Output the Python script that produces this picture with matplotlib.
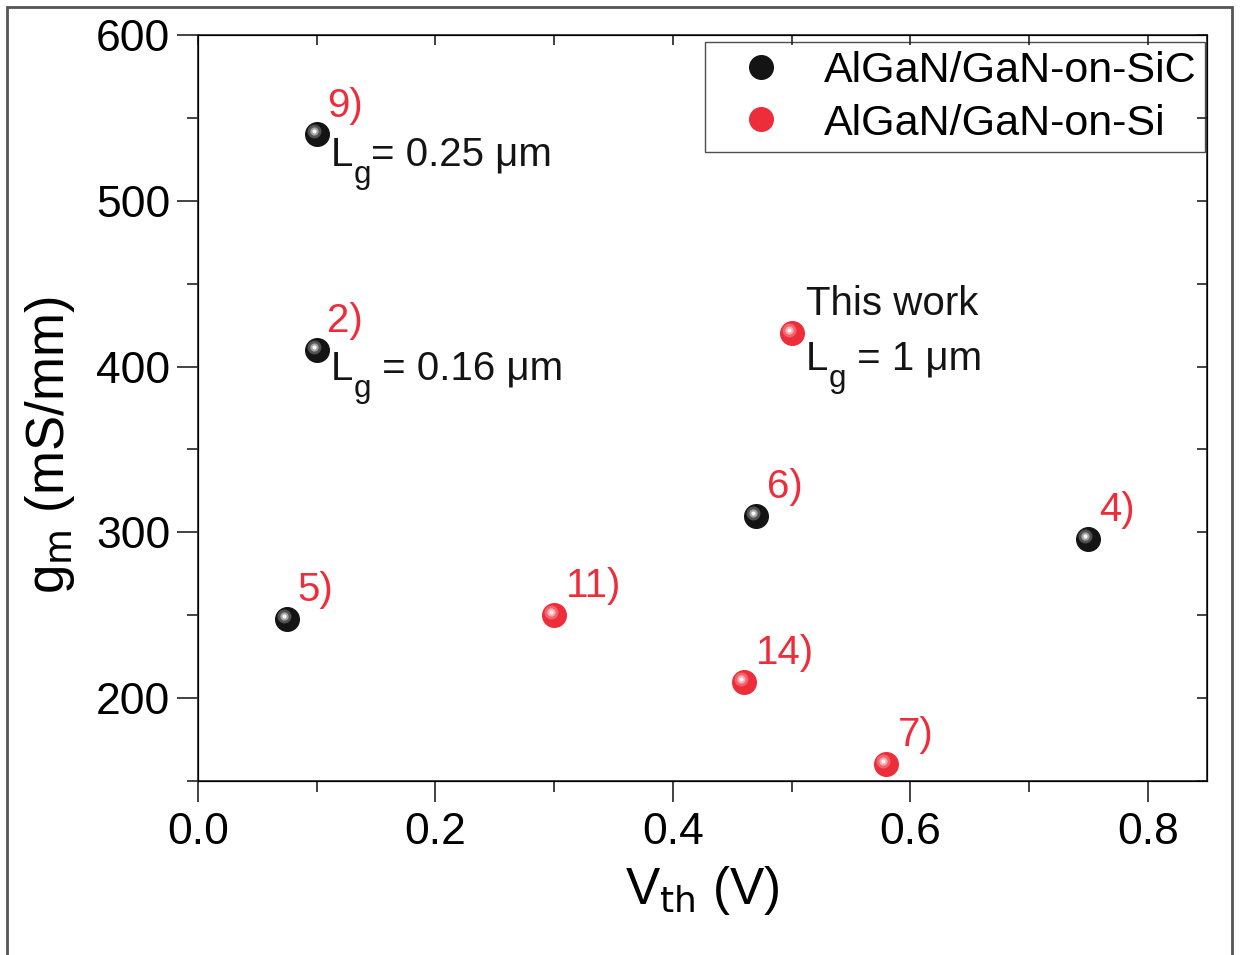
import matplotlib
matplotlib.use("Agg")
import matplotlib.pyplot as plt
import matplotlib.transforms as mtransforms
from matplotlib.patches import Rectangle
from matplotlib.ticker import MultipleLocator, FormatStrFormatter

plt.rcParams["font.family"] = ["Liberation Sans", "DejaVu Sans"]

# data
sic_vth = [0.10, 0.10, 0.075, 0.47, 0.75]
sic_gm = [540, 410, 248, 310, 296]
sic_refs = ["9)", "2)", "5)", "6)", "4)"]

si_vth = [0.50, 0.30, 0.46, 0.58]
si_gm = [420, 250, 210, 160]
si_refs = [None, "11)", "14)", "7)"]

RED = "#ee2d3a"
BLACK = "#141414"


def shifted(ax, dx_px, dy_px):
    return ax.transData + mtransforms.ScaledTranslation(
        dx_px / 100, dy_px / 100, ax.figure.dpi_scale_trans)


def balls(ax, x, y, color, hi, label=None):
    ax.plot(x, y, "o", ms=17, color=color, mec=color, zorder=4, label=label)
    # layered highlight to mimic the shaded spheres
    ax.plot(x, y, "o", ms=10, color=hi, mec="none", alpha=0.35, zorder=5,
            transform=shifted(ax, -3, 3))
    ax.plot(x, y, "o", ms=6, color=hi, mec="none", alpha=0.7, zorder=6,
            transform=shifted(ax, -3, 3))
    ax.plot(x, y, "o", ms=3, color="white", mec="none", alpha=0.95, zorder=7,
            transform=shifted(ax, -3, 3))


def rich_text(ax, x, y, pieces, size, color=BLACK):
    """pieces: list of (text, is_subscript); drawn one after another."""
    renderer = ax.figure.canvas.get_renderer()
    off = 0.0
    for s, sub in pieces:
        fs = size * 0.78 if sub else size
        dy = -size * 0.42 if sub else 0
        t = ax.annotate(s, (x, y), xytext=(off, dy), textcoords="offset points",
                        fontsize=fs, color=color, ha="left", va="baseline")
        off += t.get_window_extent(renderer).width * 72 / ax.figure.dpi


fig = plt.figure(figsize=(12.41, 9.55), dpi=100)
ax = fig.add_axes([198 / 1241, 1 - 781 / 955, (1207 - 198) / 1241, (781 - 35) / 955])

balls(ax, sic_vth, sic_gm, BLACK, "#c8c8c8", "AlGaN/GaN-on-SiC")
balls(ax, si_vth, si_gm, RED, "#ffc8cc", "AlGaN/GaN-on-Si")

ax.set_xlim(0, 0.85)
ax.set_ylim(150, 600)
ax.xaxis.set_major_locator(MultipleLocator(0.2))
ax.xaxis.set_minor_locator(MultipleLocator(0.1))
ax.yaxis.set_major_locator(MultipleLocator(100))
ax.yaxis.set_minor_locator(MultipleLocator(50))
ax.xaxis.set_major_formatter(FormatStrFormatter("%.1f"))
ax.tick_params(which="major", direction="out", length=15, width=1.2,
               labelsize=32, color="#222222", pad=5)
ax.tick_params(which="minor", direction="out", length=8, width=1.2, color="#222222")
ax.tick_params(axis="x", which="major", pad=7)
for s in ax.spines.values():
    s.set_linewidth(1.3)
    s.set_color("#333333")

# inward ticks on top and right
axt = ax.twiny()
axt.set_xlim(ax.get_xlim())
axt.xaxis.set_major_locator(MultipleLocator(0.2))
axt.xaxis.set_minor_locator(MultipleLocator(0.1))
axt.tick_params(axis="x", which="both", direction="in", length=7, width=1.2,
                labeltop=False, color="#222222")
axr = ax.twinx()
axr.set_ylim(ax.get_ylim())
axr.yaxis.set_major_locator(MultipleLocator(100))
axr.yaxis.set_minor_locator(MultipleLocator(50))
axr.tick_params(axis="y", which="both", direction="in", length=7, width=1.2,
                labelright=False, color="#222222")

ax.set_xlabel(r"V$_{\mathrm{th}}$ (V)", fontsize=37, labelpad=8)
ax.set_ylabel(r"g$_{\mathrm{m}}$ (mS/mm)", fontsize=38, labelpad=12)
ax.yaxis.set_label_coords(-0.12, 0.45)

# reference numbers
for x, y, r in zip(sic_vth, sic_gm, sic_refs):
    ax.text(x + 0.009, y + 6, r, color=RED, fontsize=29, ha="left", va="bottom")
for x, y, r in zip(si_vth, si_gm, si_refs):
    if r is None:
        continue
    ax.text(x + 0.010, y + 6, r, color=RED, fontsize=29, ha="left", va="bottom")

rich_text(ax, 0.112, 521, [("L", False), ("g", True), ("= 0.25 μm", False)], 29)
rich_text(ax, 0.112, 392, [("L", False), ("g", True), (" = 0.16 μm", False)], 29)
rich_text(ax, 0.512, 431, [("This work", False)], 29)
rich_text(ax, 0.512, 398, [("L", False), ("g", True), (" = 1 μm", False)], 29)

leg = ax.legend(loc="upper right", fontsize=31, frameon=True, fancybox=False,
                edgecolor="#222222", borderpad=0.2, handletextpad=0.35,
                labelspacing=0.3, handlelength=2.2, borderaxespad=0,
                bbox_to_anchor=(0.998, 0.9906))
leg.get_frame().set_linewidth(1.0)

# outer frame around the figure
fig.patches.append(Rectangle((7 / 1241, -0.01), (1232 - 7) / 1241, 1 - 7 / 955 + 0.01,
                             transform=fig.transFigure, fill=False,
                             edgecolor="#555555", linewidth=2))

fig.savefig("out.png", dpi=100)
